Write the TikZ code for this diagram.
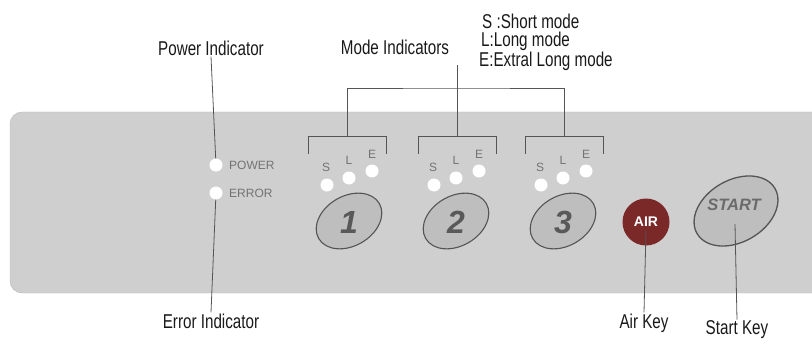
\documentclass[tikz,border=0pt]{standalone}
\usepackage{fontspec}
\setsansfont{Liberation Sans}
\newfontfamily\calloutfont[FakeStretch=0.76]{Liberation Sans}
\definecolor{panelgray}{RGB}{207,207,207}
\definecolor{keygray}{RGB}{190,190,190}
\definecolor{inkgray}{RGB}{85,85,85}
\definecolor{airred}{RGB}{122,40,40}

\begin{document}
\begin{tikzpicture}[x=1pt, y=-1pt,
    callout/.style={font=\calloutfont\fontsize{20}{22}\selectfont, text=black!90, inner sep=1pt},
    lead/.style={draw=inkgray, line width=0.8pt},
    led/.style={circle, fill=white, minimum size=13pt, inner sep=0pt},
    tag/.style={font=\sffamily\fontsize{12}{13}\selectfont, text=black!55, inner sep=0pt},
    numkey/.style={draw=inkgray, line width=1.1pt, fill=keygray},
    numtxt/.style={font=\sffamily\bfseries\itshape\fontsize{32}{32}\selectfont, text=black!65}
]
\useasboundingbox (0,0) rectangle (812,345);
\clip (0,0) rectangle (812,345);

% panel
\draw[fill=panelgray, draw=black!28, rounded corners=12pt] (10,112) rectangle (840,293);

% power / error
\node[led] (pwrled) at (216,165) {};
\node[led] (errled) at (216,193) {};
\node[tag, anchor=west] (pwrtag) at (229,165) {POWER};
\node[tag, anchor=west] (errtag) at (229,193) {ERROR};
\node[callout] (pwrlbl) at (211,48) {Power Indicator};
\node[callout] (errlbl) at (211,321) {Error Indicator};
\draw[lead] (pwrlbl.south) -- (pwrled);
\draw[lead] (errled) -- (errlbl.north);

% mode indicators
\node[callout] (modelbl) at (395,47) {Mode Indicators};
\node[callout, anchor=west] (modeS) at (481,21) {S :Short mode};
\node[callout, anchor=west] (modeL) at (480,41) {L:Long mode};
\node[callout, anchor=west] (modeE) at (478,61) {E:Extral Long mode};
\coordinate (modetop) at (457,65);
\coordinate (brk1) at (347,136);
\coordinate (brk2) at (457,136);
\coordinate (brk3) at (564,136);
\draw[lead] (modetop) -- (brk2);
\draw[lead] (brk1) |- (457,88) -| (brk3);
\foreach \c in {brk1,brk2,brk3}
    \draw[lead] ([xshift=-39pt,yshift=-18pt]\c) |- ([xshift=39pt]\c) -- ++(0,18);

% S L E leds and keys
\foreach \k/\xx in {1/349,2/456,3/563} {
    \node[tag] (s\k) at (\xx-23,167) {S};
    \node[tag] (l\k) at (\xx,160) {L};
    \node[tag] (e\k) at (\xx+23,154) {E};
    \node[led] (sled\k) at (\xx-22,185) {};
    \node[led] (lled\k) at (\xx,178) {};
    \node[led] (eled\k) at (\xx+23,171) {};
    \draw[numkey, rotate around={30:(\xx,221)}] (\xx,221) ellipse (35 and 25);
    \node[numtxt] (key\k) at (\xx,222) {\k};
}

% air and start
\node[circle, fill=airred, minimum size=47pt, inner sep=0pt, font=\sffamily\bfseries\fontsize{14}{14}\selectfont, text=white] (airkey) at (646,222) {AIR};
\draw[numkey, line width=1.3pt, rotate around={30:(736,211)}] (736,211) ellipse (45 and 31);
\node[font=\sffamily\bfseries\itshape\fontsize{16.5}{17}\selectfont, text=black!58] (startkey) at (734,205) {START};
\coordinate (startpt) at (735,224);
\node[callout] (airlbl) at (644,323) {Air Key};
\node[callout] (startlbl) at (737,330) {Start Key};
\draw[lead] (airkey.center) ++(0,8) -- (airlbl.north);
\draw[lead] (startpt) -- (startlbl.north);
\end{tikzpicture}
\end{document}
